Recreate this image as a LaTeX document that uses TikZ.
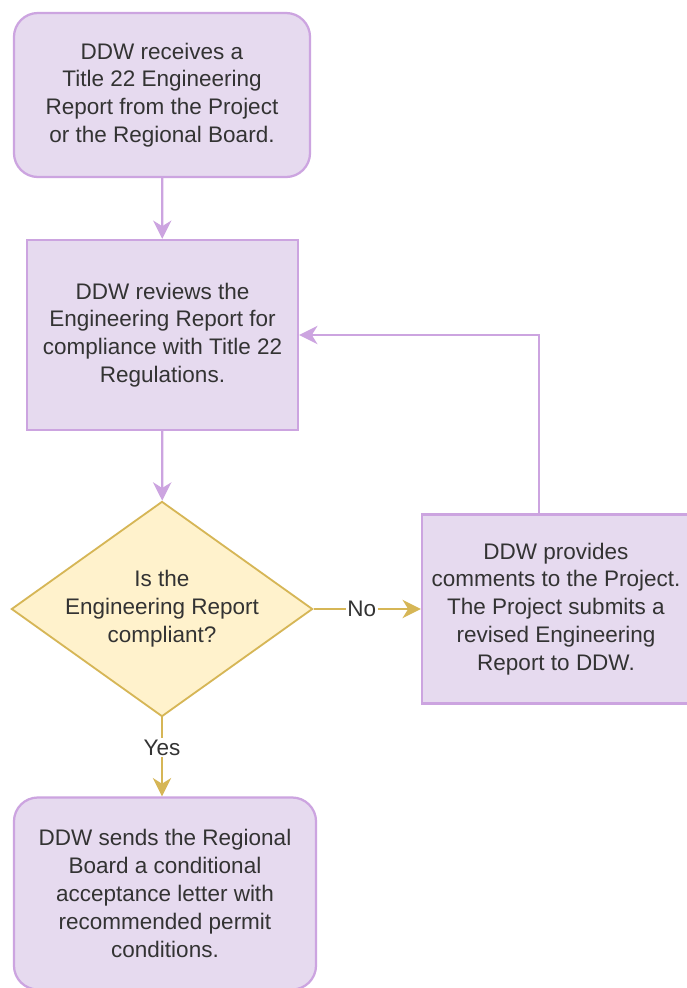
\documentclass[tikz,border=0pt]{standalone}
\usepackage{fontspec}
\setmainfont{Liberation Sans}
\usetikzlibrary{arrows.meta,shapes.geometric}
\definecolor{lilacfill}{HTML}{E6DAEF}
\definecolor{lilacline}{HTML}{CCA4E0}
\definecolor{sandfill}{HTML}{FFF2CC}
\definecolor{sandline}{HTML}{D6B656}
\definecolor{txt}{HTML}{333333}
\tikzset{
  stepbox/.style={draw=lilacline,fill=lilacfill,line width=1.6pt,align=center,text=txt,
    font=\fontsize{16}{19.8}\selectfont,inner sep=0pt},
  roundbox/.style={stepbox,rounded corners=0.6cm},
  question/.style={diamond,aspect=1.4,draw=sandline,fill=sandfill,line width=1.3pt,align=center,text=txt,
    font=\fontsize{16}{19.8}\selectfont,inner sep=0pt,minimum width=7.25cm,minimum height=5.2cm},
  flow/.style={draw=lilacline,line width=1.6pt,-{Stealth[length=13pt,width=13pt,inset=4pt]}},
  answer/.style={draw=sandline,line width=1.6pt,-{Stealth[length=13pt,width=13pt,inset=4pt]}},
  tag/.style={fill=white,text=txt,font=\fontsize{16}{19.8}\selectfont,inner sep=1pt}
}
\begin{document}
\begin{tikzpicture}[x=0.025cm,y=-0.025cm]
\useasboundingbox[fill=white](0,0)rectangle(686,988);
\node[roundbox,minimum width=7.4cm,minimum height=4.1cm](receive)at(162,95)
  {DDW receives a\\Title 22 Engineering\\Report from the Project\\or the Regional Board.};
\node[stepbox,minimum width=6.775cm,minimum height=4.75cm](review)at(162.5,335)
  {DDW reviews the\\Engineering Report for\\compliance with Title 22\\Regulations.};
\node[question](check)at(162,609){Is the\\Engineering Report\\compliant?};
\node[stepbox,minimum width=6.7cm,minimum height=4.725cm](revise)at(556,609)
  {DDW provides\\comments to the Project.\\The Project submits a\\revised Engineering\\Report to DDW.};
\node[roundbox,minimum width=7.55cm,minimum height=4.8cm](accept)at(165,893.5)
  {DDW sends the Regional\\Board a conditional\\acceptance letter with\\recommended permit\\conditions.};
\draw[flow](receive)--(review);
\draw[flow](review)--(check);
\draw[answer](check.east)--node[tag,pos=0.45]{No}(check.east-|revise.west);
\draw[answer](check.south)--node[tag,pos=0.38]{Yes}(check.south|-accept.north);
\draw[flow]([xshift=-0.425cm]revise.north)|-(review.east);
\end{tikzpicture}
\end{document}
